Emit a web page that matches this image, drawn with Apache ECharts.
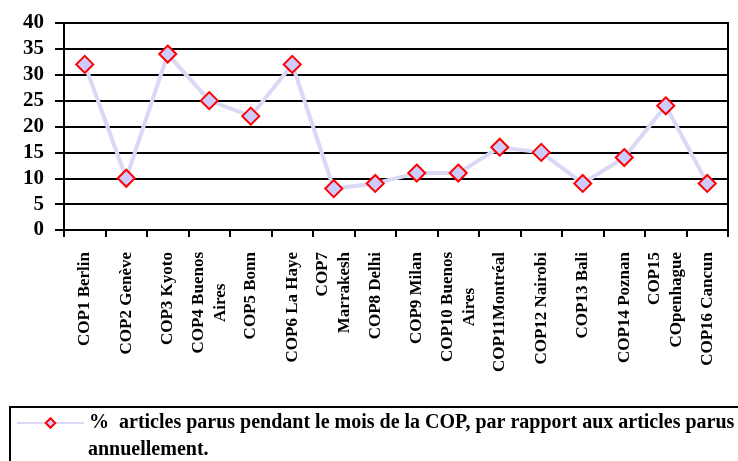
<!DOCTYPE html>
<html>
<head>
<meta charset="utf-8">
<script src="https://cdn.jsdelivr.net/npm/echarts@6/dist/echarts.min.js"></script>
<style>
  html, body { margin: 0; padding: 0; background: #fff; }
  #chart { width: 738px; height: 461px; }
</style>
</head>
<body>
<div id="chart"></div>
<script>
// categories (\n marks where the source wraps a label)
var conferences = [
  'COP1 Berlin', 'COP2 Genève', 'COP3 Kyoto', 'COP4 Buenos\nAires', 'COP5 Bonn',
  'COP6 La Haye', 'COP7\nMarrakesh', 'COP8 Delhi', 'COP9 Milan', 'COP10 Buenos\nAires',
  'COP11Montréal', 'COP12 Nairobi', 'COP13 Bali', 'COP14 Poznan', 'COP15\nCOpenhague',
  'COP16 Cancun'
];
// % of articles published during the COP month vs. the whole year
var shareDuringCop = [32, 10, 34, 25, 22, 32, 8, 9, 11, 11, 16, 15, 9, 14, 24, 9];
var yTicks = { min: 0, max: 40, interval: 5 };
var seriesName = '%  articles parus pendant le mois de la COP, par rapport aux articles parus\nannuellement.';
var nameLines = seriesName.split('\n');

var serif = '"Liberation Serif", "DejaVu Serif", serif';
var chart = echarts.init(document.getElementById('chart'));

chart.setOption({
  animation: false,
  backgroundColor: '#fff',
  textStyle: { fontFamily: serif },
  grid: {
    left: 64, right: 10, top: 23, bottom: 231,
    show: true, borderColor: '#000', borderWidth: 2
  },
  graphic: [{
    type: 'rect',
    shape: { x: 10, y: 407, width: 760, height: 80 },
    style: { fill: null, stroke: '#000', lineWidth: 2 }
  }, {
    // the legend entry wraps onto a second line
    type: 'text',
    left: 88, top: 440,
    style: {
      text: nameLines[1], fill: '#000',
      font: 'bold 20px ' + serif
    }
  }],
  legend: {
    left: 16, top: 413,
    padding: 0,
    itemWidth: 67, itemHeight: 12, itemGap: 0,
    formatter: function (name) { return name.split('\n')[0]; },
    textStyle: {
      fontFamily: serif, fontWeight: 'bold', fontSize: 20, color: '#000'
    },
    data: [seriesName]
  },
  xAxis: {
    type: 'category',
    data: conferences,
    boundaryGap: true,
    axisLine: { lineStyle: { color: '#000', width: 2 } },
    axisTick: { show: true, length: 7, lineStyle: { color: '#000', width: 2 } },
    axisLabel: {
      interval: 0, rotate: 90, margin: 22,
      fontFamily: serif, fontWeight: 'bold', fontSize: 17, color: '#000',
      lineHeight: 22,
      formatter: function (v) {
        var parts = v.split('\n');
        if (parts.length === 1) return '{a|' + v + '}';
        return '{a|' + parts[0] + '}\n{b|' + parts[1] + '}';
      },
      rich: {
        a: { fontFamily: serif, fontWeight: 'bold', fontSize: 17, color: '#000', lineHeight: 22 },
        b: { fontFamily: serif, fontWeight: 'bold', fontSize: 17, color: '#000', lineHeight: 22, align: 'center' }
      }
    }
  },
  yAxis: {
    type: 'value',
    min: yTicks.min, max: yTicks.max, interval: yTicks.interval,
    axisLine: { show: true, lineStyle: { color: '#000', width: 2 } },
    axisTick: { show: true, length: 9, lineStyle: { color: '#000', width: 2 } },
    axisLabel: {
      margin: 20, fontFamily: serif, fontWeight: 'bold', fontSize: 21, color: '#000'
    },
    splitLine: { show: true, lineStyle: { color: '#000', width: 2 } }
  },
  series: [{
    name: seriesName,
    type: 'line',
    data: shareDuringCop,
    symbol: 'diamond',
    symbolSize: 17,
    lineStyle: { color: '#d9d9f6', width: 4 },
    itemStyle: { color: '#ccccff', borderColor: '#ff0000', borderWidth: 2 }
  }]
});
</script>
</body>
</html>
